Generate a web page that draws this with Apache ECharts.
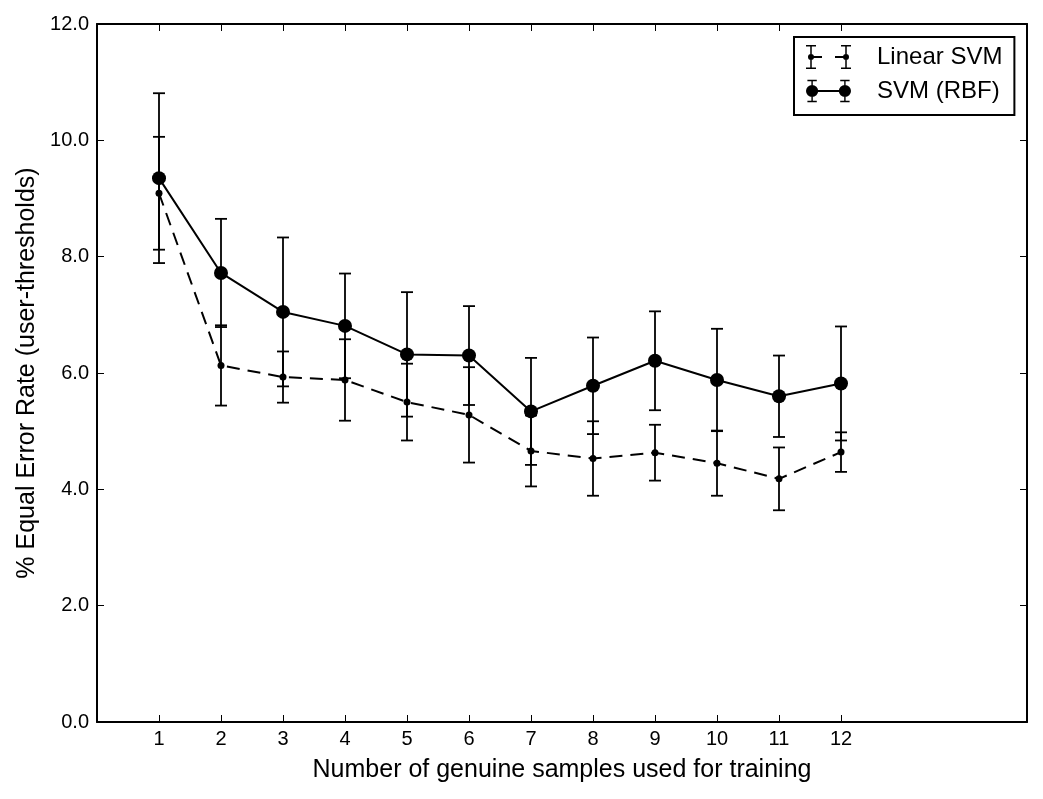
<!DOCTYPE html>
<html><head><meta charset="utf-8">
<script src="https://cdn.jsdelivr.net/npm/echarts@6/dist/echarts.min.js"></script>
<style>html,body{margin:0;padding:0;background:#fff}#c{width:1043px;height:799px}</style>
</head><body><div id="c"></div>
<script>
// ---- data ----
const samples = [1, 2, 3, 4, 5, 6, 7, 8, 9, 10, 11, 12];
const linearMean = [9.09, 6.13, 5.93, 5.88, 5.50, 5.28, 4.66, 4.53, 4.63, 4.45, 4.18, 4.64];
const linearStd  = [0.97, 0.69, 0.44, 0.70, 0.66, 0.82, 0.61, 0.64, 0.48, 0.56, 0.54, 0.34];
const rbfMean    = [9.35, 7.72, 7.05, 6.81, 6.32, 6.30, 5.34, 5.78, 6.21, 5.88, 5.60, 5.82];
const rbfStd     = [1.46, 0.93, 1.28, 0.90, 1.07, 0.85, 0.92, 0.83, 0.85, 0.88, 0.70, 0.98];
const xTickValues = [1, 2, 3, 4, 5, 6, 7, 8, 9, 10, 11, 12];
const seriesNames = ['Linear SVM', 'SVM (RBF)'];
const xAxisTitle = 'Number of genuine samples used for training';
const yAxisTitle = '% Equal Error Rate (user-thresholds)';

// ---- helpers ----
const FONT = "'Liberation Sans', Arial, Helvetica, sans-serif";
function rect(x0, y0, x1, y1) { return `M${x0} ${y0}H${x1}V${y1}H${x0}Z`; }
function circ(cx, cy, r) { return `M${cx - r} ${cy}A${r} ${r} 0 1 1 ${cx + r} ${cy}A${r} ${r} 0 1 1 ${cx - r} ${cy}Z`; }
function errIcon(r, dashed) {
  let p = '';
  [5, 40].forEach(x => {
    p += rect(x - 0.75, 0, x + 0.75, 24);
    p += rect(x - 5, 0, x + 5, 1.5);
    p += rect(x - 5, 22.5, x + 5, 24);
  });
  if (dashed) { p += rect(5, 11, 16, 13) + rect(29, 11, 40, 13); }
  else { p += rect(5, 11, 40, 13); }
  p += circ(5, 12, r) + circ(40, 12, r);
  return 'path://' + p;
}
function errRender(params, api) {
  const x = api.value(0), lo = api.value(1), hi = api.value(2);
  const t = api.coord([x, hi]), b = api.coord([x, lo]);
  const hw = 6;
  const style = { stroke: '#000', lineWidth: 1.8 };
  return { type: 'group', children: [
    { type: 'line', shape: { x1: t[0], y1: t[1], x2: b[0], y2: b[1] }, style },
    { type: 'line', shape: { x1: t[0] - hw, y1: t[1], x2: t[0] + hw, y2: t[1] }, style },
    { type: 'line', shape: { x1: b[0] - hw, y1: b[1], x2: b[0] + hw, y2: b[1] }, style }
  ]};
}
const linePts = (m) => samples.map((x, i) => [x, m[i]]);
const errPts = (m, s) => samples.map((x, i) => [x, m[i] - s[i], m[i] + s[i]]);

const axisLineStyle = { color: '#000', width: 2 };
const tickStyle = { color: '#000', width: 1 };
const chart = echarts.init(document.getElementById('c'), null, { renderer: 'canvas' });
chart.setOption({
  animation: false,
  backgroundColor: '#fff',
  textStyle: { fontFamily: FONT, color: '#000' },
  grid: { left: 97, right: 16, top: 24, bottom: 77, containLabel: false },
  legend: {
    left: 794, top: 37, orient: 'vertical',
    itemWidth: 45, itemHeight: 24, itemGap: 10,
    padding: [8, 12, 12, 12],
    borderColor: '#000', borderWidth: 2, borderRadius: 0,
    backgroundColor: '#fff',
    selectedMode: false,
    itemStyle: { borderWidth: 0 },
    textStyle: { fontFamily: FONT, fontSize: 24, color: '#000', lineHeight: 24, padding: [0, 0, 0, 21] },
    data: [
      { name: seriesNames[0], icon: errIcon(3, true) },
      { name: seriesNames[1], icon: errIcon(6.5, false) }
    ]
  },
  xAxis: [{
    type: 'value', min: 0, max: 15, position: 'bottom',
    name: xAxisTitle, nameLocation: 'middle', nameGap: 36, nameMoveOverlap: false,
    nameTextStyle: { fontFamily: FONT, fontSize: 25, color: '#000' },
    axisLine: { show: true, onZero: false, lineStyle: axisLineStyle },
    axisTick: { show: true, inside: true, length: 7, customValues: xTickValues, lineStyle: tickStyle },
    axisLabel: { show: true, customValues: xTickValues, margin: 7, fontFamily: FONT, fontSize: 20, color: '#000' },
    splitLine: { show: false }
  }, {
    type: 'value', min: 0, max: 15, position: 'top',
    axisLine: { show: true, onZero: false, lineStyle: axisLineStyle },
    axisTick: { show: true, inside: true, length: 7, customValues: xTickValues, lineStyle: tickStyle },
    axisLabel: { show: false },
    splitLine: { show: false }
  }],
  yAxis: [{
    type: 'value', min: 0, max: 12, interval: 2, position: 'left',
    name: yAxisTitle, nameLocation: 'middle', nameGap: 57, nameMoveOverlap: false,
    nameTextStyle: { fontFamily: FONT, fontSize: 25, color: '#000' },
    axisLine: { show: true, onZero: false, lineStyle: axisLineStyle },
    axisTick: { show: true, inside: true, length: 7, lineStyle: tickStyle },
    axisLabel: { show: true, margin: 8, fontFamily: FONT, fontSize: 20, color: '#000', formatter: v => v.toFixed(1) },
    splitLine: { show: false }
  }, {
    type: 'value', min: 0, max: 12, interval: 2, position: 'right',
    axisLine: { show: true, onZero: false, lineStyle: axisLineStyle },
    axisTick: { show: true, inside: true, length: 7, lineStyle: tickStyle },
    axisLabel: { show: false },
    splitLine: { show: false }
  }],
  series: [
    {
      name: 'Linear SVM err', type: 'custom', renderItem: errRender,
      encode: { x: 0, y: [1, 2] }, data: errPts(linearMean, linearStd), z: 2, silent: true
    },
    {
      name: 'SVM (RBF) err', type: 'custom', renderItem: errRender,
      encode: { x: 0, y: [1, 2] }, data: errPts(rbfMean, rbfStd), z: 2, silent: true
    },
    {
      name: seriesNames[0], type: 'line', data: linePts(linearMean),
      color: '#000', symbol: 'circle', symbolSize: 7,
      itemStyle: { color: '#000', borderWidth: 0 },
      lineStyle: { color: '#000', width: 2, type: [13, 8] }, z: 3
    },
    {
      name: seriesNames[1], type: 'line', data: linePts(rbfMean),
      color: '#000', symbol: 'circle', symbolSize: 14,
      itemStyle: { color: '#000', borderWidth: 0 },
      lineStyle: { color: '#000', width: 2 }, z: 4
    }
  ]
});
</script></body></html>
